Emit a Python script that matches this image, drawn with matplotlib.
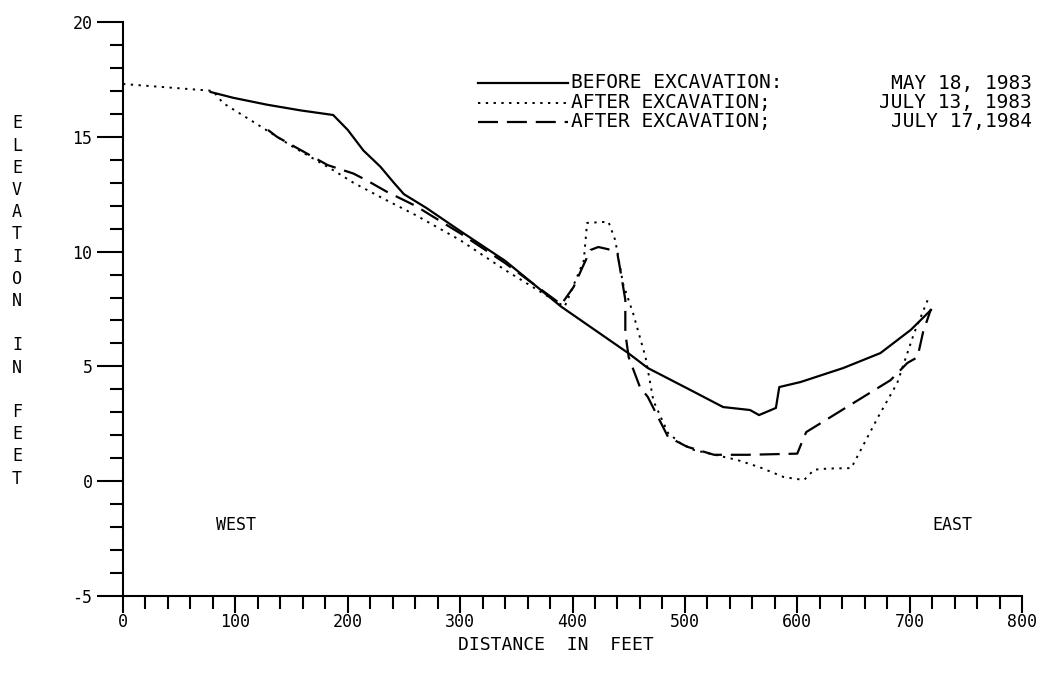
import matplotlib.pyplot as plt
from matplotlib.ticker import MultipleLocator

plt.rcParams["axes.unicode_minus"] = False

# before excavation, may 18 1983
before_x = [78, 98, 128, 158, 187, 200, 214, 229, 241, 250, 270, 300, 340, 390,
            449, 467, 505, 534, 558, 566, 581, 584, 603, 641, 674, 701, 719]
before_y = [16.95, 16.7, 16.4, 16.15, 15.95, 15.3, 14.4, 13.7, 13.0, 12.5, 11.9, 10.9, 9.6, 7.6,
            5.6, 4.93, 3.97, 3.23, 3.1, 2.88, 3.19, 4.1, 4.32, 4.93, 5.58, 6.59, 7.46]

# after excavation, july 13 1983
jul83_x = [0, 80, 89, 116, 150, 187, 205, 232, 260, 300, 340, 393, 410, 413, 432, 438,
           445, 454, 465, 472, 485, 496, 508, 547, 567, 588, 606, 615, 627, 648, 672, 689, 704, 717]
jul83_y = [17.3, 17.0, 16.47, 15.65, 14.6, 13.55, 13.0, 12.3, 11.6, 10.5, 9.2, 7.6, 9.6, 11.25, 11.3, 10.5,
           8.6, 7.3, 5.4, 3.5, 2.1, 1.66, 1.36, 0.92, 0.6, 0.18, 0.05, 0.5, 0.55, 0.57, 2.8, 4.28, 6.45, 8.0]

# after excavation, july 17 1984
jul84_x = [129, 137, 182, 205, 217, 235, 260, 300, 340, 390, 401, 409, 416, 423, 432, 440,
           443, 447, 447, 450, 460, 467, 485, 502, 526, 556, 600, 605, 608, 683, 698, 707, 712, 719]
jul84_y = [15.3, 15.0, 13.77, 13.4, 13.1, 12.6, 12.0, 10.8, 9.5, 7.7, 8.46, 9.33, 10.07, 10.2, 10.1, 9.9,
           9.07, 7.9, 6.45, 5.4, 4.1, 3.67, 1.93, 1.5, 1.15, 1.15, 1.2, 1.8, 2.14, 4.4, 5.15, 5.4, 6.5, 7.5]

legend_desc = ["BEFORE EXCAVATION:", "AFTER EXCAVATION;", "AFTER EXCAVATION;"]
legend_date = ["MAY 18, 1983", "JULY 13, 1983", "JULY 17,1984"]

mono = "DejaVu Sans Mono"

fig = plt.figure(figsize=(10.48, 6.79), dpi=100)
ax = fig.add_axes([123 / 1048, 1 - 596 / 679, (1022 - 123) / 1048, (596 - 22) / 679])

styles = [dict(ls="-", lw=1.6), dict(ls=(0, (1.2, 2.8)), lw=1.4), dict(ls=(0, (9, 4)), lw=1.6)]
series = [(before_x, before_y), (jul83_x, jul83_y), (jul84_x, jul84_y)]
for (xs, ys), st in zip(series, styles):
    ax.plot(xs, ys, c="black", **st)

ax.set_xlim(0, 800)
ax.set_ylim(-5, 20)
ax.spines["top"].set_visible(False)
ax.spines["right"].set_visible(False)
ax.spines["left"].set_linewidth(1.5)
ax.spines["bottom"].set_linewidth(1.5)

ax.xaxis.set_major_locator(MultipleLocator(100))
ax.xaxis.set_minor_locator(MultipleLocator(20))
ax.yaxis.set_major_locator(MultipleLocator(5))
ax.yaxis.set_minor_locator(MultipleLocator(1))
ax.tick_params(axis="y", which="major", length=19, width=1.5, pad=3, labelsize=12)
ax.tick_params(axis="y", which="minor", length=9.5, width=1.5)
ax.tick_params(axis="x", which="major", length=12, width=1.5, pad=0, labelsize=12)
ax.tick_params(axis="x", which="minor", length=9, width=1.5)
for lab in ax.get_xticklabels() + ax.get_yticklabels():
    lab.set_family(mono)

# legend drawn by hand like the plotter did
for i, st in enumerate(styles):
    yf = 1 - (83 + 19.5 * i) / 679
    fig.add_artist(plt.Line2D([478 / 1048, 568 / 1048], [yf, yf], c="black", **st))
    fig.text(571 / 1048, yf, legend_desc[i], family=mono, fontsize=14, va="center", ha="left")
    fig.text(1032 / 1048, yf, legend_date[i], family=mono, fontsize=14, va="center", ha="right")

ax.text(101, -1.9, "WEST", family=mono, fontsize=12, ha="center", va="center")
ax.text(738, -1.9, "EAST", family=mono, fontsize=12, ha="center", va="center")

fig.text(556 / 1048, 1 - 645 / 679, "DISTANCE  IN  FEET", family=mono, fontsize=13,
         ha="center", va="center")
ylab = "\n".join(list("ELEVATION") + [" "] + list("IN") + [" "] + list("FEET"))
fig.text(17 / 1048, 1 - 301 / 679, ylab, family=mono, fontsize=12, ha="center", va="center",
         linespacing=1.3)

plt.savefig("out.png", dpi=100)
